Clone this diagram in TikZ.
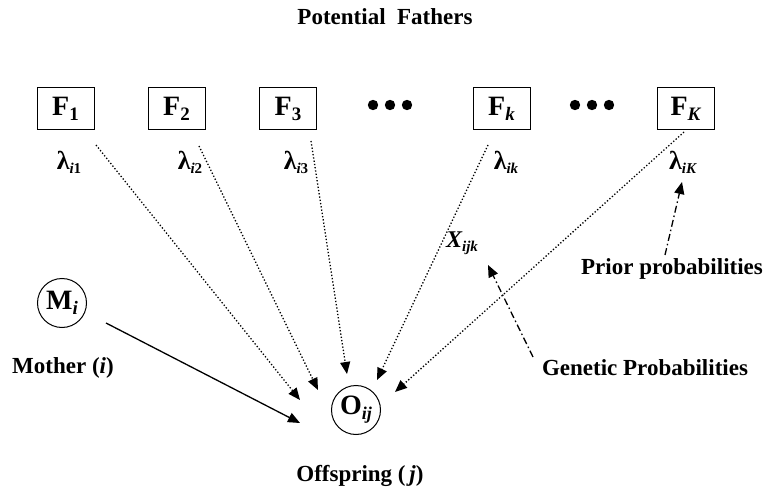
\documentclass[tikz,border=0pt]{standalone}
\usepackage{fontspec}
\setmainfont{Liberation Serif}
\usetikzlibrary{arrows.meta}
\newcommand\Fsub[2]{{\fontsize{28}{28}\selectfont #1}\raisebox{-5pt}{\fontsize{19}{19}\selectfont #2}}
\newcommand\lamsub[1]{{\fontsize{26}{26}\selectfont λ}\raisebox{-4pt}{\fontsize{15}{15}\selectfont #1}}
\begin{document}
\begin{tikzpicture}[x=1pt,y=-1pt,
  fbox/.style={draw,line width=1pt,minimum width=57pt,minimum height=42pt,inner sep=0pt,font=\bfseries},
  circ/.style={draw,circle,line width=1pt,minimum size=49pt,inner sep=0pt,font=\bfseries},
  lbl/.style={font=\bfseries\fontsize{23}{25}\selectfont,inner sep=0pt},
  lam/.style={font=\bfseries,inner sep=0pt},
  tip/.style={-{Triangle[length=12pt,width=10pt]}},
  dotarrow/.style={tip,line width=1.3pt,dash pattern=on 1.3pt off 2pt},
  dasharrow/.style={tip,line width=1.3pt,dash pattern=on 7pt off 3pt on 1.5pt off 3pt},
  solidarrow/.style={tip,line width=1.3pt}]
\useasboundingbox (0,0) rectangle (766,492);
\node[lbl] (title) at (385,17) {Potential\ \ Fathers};
\node[fbox] (F1) at (65.5,109) {\Fsub{F}{1}};
\node[fbox] (F2) at (176.5,109) {\Fsub{F}{2}};
\node[fbox] (F3) at (288,109) {\Fsub{F}{3}};
\node[fbox] (Fk) at (501.5,109) {\Fsub{F}{\itshape k}};
\node[fbox] (FK) at (685.5,109) {\Fsub{F}{\itshape K}};
\foreach \x in {373,390,407} \fill (\x,105) circle (5.2);
\foreach \x in {575,592,609} \fill (\x,105) circle (5.2);
\node[lam] (l1) at (69,162) {\lamsub{\textit{i}1}};
\node[lam] (l2) at (190,162) {\lamsub{\textit{i}2}};
\node[lam] (l3) at (296,162) {\lamsub{\textit{i}3}};
\node[lam] (lk) at (506,162) {\lamsub{\textit{ik}}};
\node[lam] (lK) at (683,162) {\lamsub{\textit{iK}}};
\node[lam] (X) at (462,243) {{\fontsize{24}{24}\selectfont\itshape X}\raisebox{-4pt}{\fontsize{15}{15}\selectfont\itshape ijk}};
\node[circ] (M) at (62,303) {\Fsub{M}{\itshape i}};
\node[circ] (O) at (356,410) {{\fontsize{28}{28}\selectfont O}\raisebox{-5pt}{\fontsize{18}{18}\selectfont\itshape ij}};
\node[lbl] (mother) at (63,368) {Mother (\textit{i})};
\node[lbl] (off) at (360,476) {Offspring (\,\textit{j})};
\node[lbl] (gen) at (645,368) {Genetic Probabilities};
\node[lbl] (prior) at (672,269) {Prior probabilities};
\coordinate (s1) at (96,145);  \coordinate (e1) at (300,400);
\coordinate (s2) at (199,146); \coordinate (e2) at (318,390);
\coordinate (s3) at (311,141); \coordinate (e3) at (347,374);
\coordinate (s4) at (488,145); \coordinate (e4) at (377,380);
\coordinate (s5) at (684,132); \coordinate (e5) at (395,392);
\coordinate (sm) at (106,323); \coordinate (em) at (300,423);
\coordinate (sg) at (533,357); \coordinate (eg) at (488,265);
\coordinate (sp) at (665,255); \coordinate (ep) at (682,182);
\draw[dotarrow] (s1) -- (e1);
\draw[dotarrow] (s2) -- (e2);
\draw[dotarrow] (s3) -- (e3);
\draw[dotarrow] (s4) -- (e4);
\draw[dotarrow] (s5) -- (e5);
\draw[solidarrow] (sm) -- (em);
\draw[dasharrow] (sg) -- (eg);
\draw[dasharrow] (sp) -- (ep);
\end{tikzpicture}
\end{document}
